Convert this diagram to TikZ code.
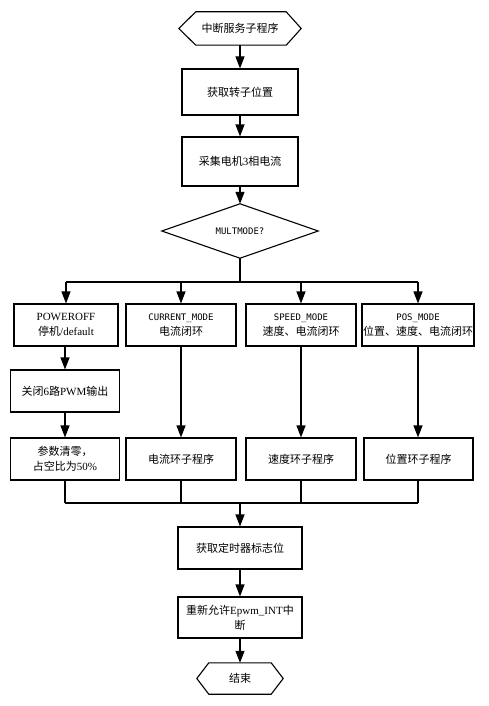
\documentclass[tikz,border=0pt]{standalone}
\usepackage{fontspec}
\setmainfont{Liberation Serif}
\newfontfamily\cjk{Noto Sans CJK SC}
\newfontfamily\monof{DejaVu Sans Mono}
\usetikzlibrary{arrows.meta}
\begin{document}
\begin{tikzpicture}[x=1pt,y=-1pt,
  ln/.style={line width=1.1pt},
  arr/.style={line width=1.1pt,-{Triangle[length=12pt,width=9pt]}},
  txt/.style={align=center,inner sep=1pt,font=\fontsize{11}{15}\selectfont},
  box/.style={txt,draw,line width=1.1pt,minimum width=116pt,minimum height=46pt},
  modebox/.style={box,minimum width=110pt,minimum height=42pt}
]
\useasboundingbox (0,0) rectangle (489,706);

% start terminal
\node[txt,minimum width=122pt,minimum height=33pt] (start) at (240,28.5) {\cjk 中断服务子程序};
\draw[ln] (start.west) -- ([xshift=17pt]start.north west) -- ([xshift=-15pt]start.north east)
  -- (start.east) -- ([xshift=-15pt]start.south east) -- ([xshift=17pt]start.south west) -- cycle;

\node[box] (pos1) at (240,92) {\cjk 获取转子位置};
\node[box,minimum height=49pt] (cur3) at (240,161.5) {{\cjk 采集电机}3{\cjk 相电流}};

% decision
\node[txt,minimum width=156pt,minimum height=54pt,font=\monof\fontsize{9}{11}\selectfont] (dia) at (240,231) {MULTMODE?};
\draw[ln] (dia.west) -- (dia.north) -- (dia.east) -- (dia.south) -- cycle;

% mode boxes
\node[modebox,minimum width=104pt] (p0) at (66,325) {POWEROFF\\{\cjk 停机}/default};
\node[modebox] (p1) at (181,325) {{\monof\fontsize{9}{11}\selectfont CURRENT\_MODE}\\{\cjk 电流闭环}};
\node[modebox] (p2) at (301,325) {{\monof\fontsize{9}{11}\selectfont SPEED\_MODE}\\{\cjk 速度、电流闭环}};
\node[modebox] (p3) at (418,325) {{\monof\fontsize{9}{11}\selectfont POS\_MODE}\\{\cjk 位置、速度、电流闭环}};

\node[modebox,minimum width=109pt] (pwm) at (65,391) {{\cjk 关闭}6{\cjk 路}PWM{\cjk 输出}};
\node[modebox,minimum width=109pt] (zero) at (65,459) {{\cjk 参数清零，}\\{\cjk 占空比为}50\%};
\node[modebox] (c1) at (181,459) {\cjk 电流环子程序};
\node[modebox] (c2) at (301,459) {\cjk 速度环子程序};
\node[modebox,minimum width=109pt] (c3) at (418.5,459) {\cjk 位置环子程序};

\node[box,minimum width=124pt,minimum height=42pt] (timer) at (240,548) {\cjk 获取定时器标志位};
\node[box,minimum width=124pt,minimum height=41pt] (reen) at (240,617.5) {{\cjk 重新允许}Epwm\_INT{\cjk 中}\\{\cjk 断}};

\node[txt,minimum width=86pt,minimum height=31pt] (fin) at (240,678.5) {\cjk 结束};
\draw[ln] (fin.west) -- ([xshift=12pt]fin.north west) -- ([xshift=-12pt]fin.north east)
  -- (fin.east) -- ([xshift=-12pt]fin.south east) -- ([xshift=12pt]fin.south west) -- cycle;

% coordinates
\coordinate (bm) at (240,282);
\coordinate (b0) at (66,282);
\coordinate (b1) at (181,282);
\coordinate (b2) at (301,282);
\coordinate (b3) at (418,282);
\coordinate (m0) at (65,503);
\coordinate (mm) at (240,503);
\coordinate (m3) at (418,503);

% connectors
\draw[arr] (start) -- (pos1);
\draw[arr] (pos1) -- (cur3);
\draw[arr] (cur3) -- (dia.north);
\draw[ln] (dia.south) -- (bm);
\draw[ln] (b0) -- (b3);
\draw[arr] (b0) -- (p0);
\draw[arr] (b1) -- (p1);
\draw[arr] (b2) -- (p2);
\draw[arr] (b3) -- (p3);
\draw[arr] (p0.south -| pwm) -- (pwm);
\draw[arr] (pwm) -- (zero);
\draw[arr] (p1) -- (c1);
\draw[arr] (p2) -- (c2);
\draw[arr] (p3) -- (p3 |- c3.north);
\draw[ln] (zero) -- (m0);
\draw[ln] (c1) -- (c1 |- mm);
\draw[ln] (c2) -- (c2 |- mm);
\draw[ln] (c3.south -| m3) -- (m3);
\draw[ln] (m0) -- (m3);
\draw[arr] (mm) -- (timer);
\draw[arr] (timer) -- (reen);
\draw[arr] (reen) -- (fin);
\end{tikzpicture}
\end{document}
